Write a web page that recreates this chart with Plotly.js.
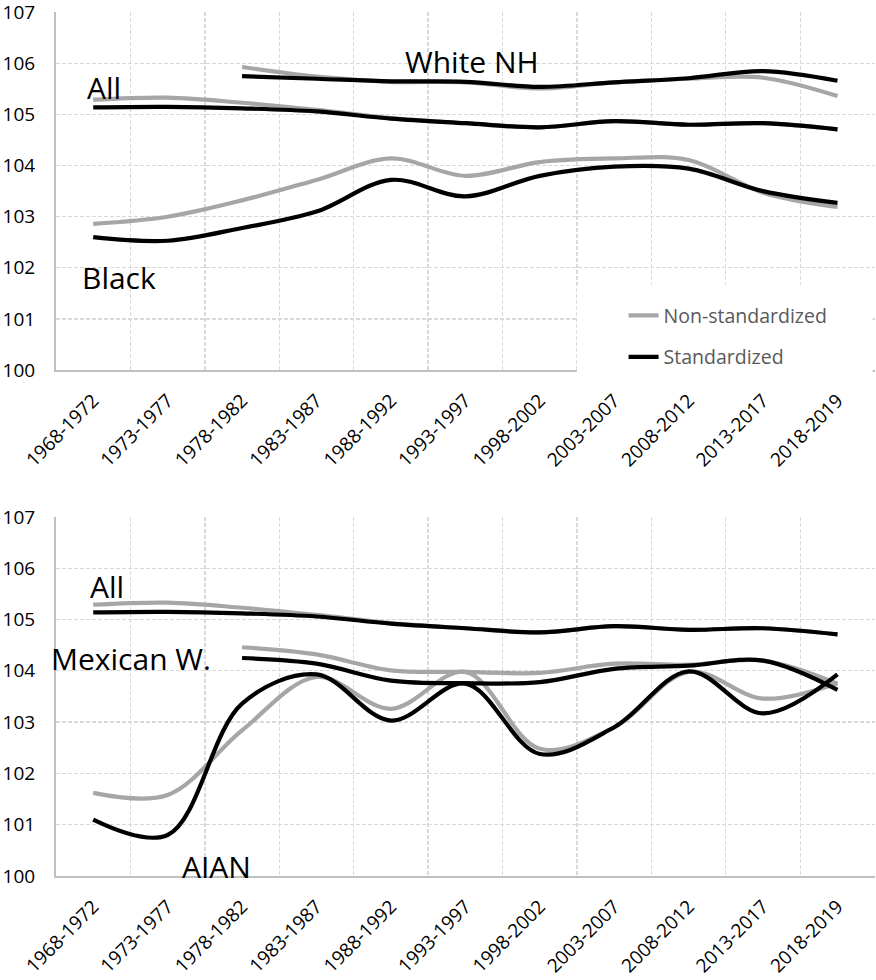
<!DOCTYPE html>
<html>
<head>
<meta charset="utf-8">
<script src="https://cdn.plot.ly/plotly-3.0.1.min.js"></script>
<style>
  html, body { margin: 0; padding: 0; background: #ffffff; }
  #chart { width: 876px; height: 980px; }
</style>
</head>
<body>
<div id="chart"></div>
<script>
// ---- Data ----
const periods = ['1968-1972','1973-1977','1978-1982','1983-1987','1988-1992','1993-1997','1998-2002','2003-2007','2008-2012','2013-2017','2018-2019'];
const yTicks = [100, 101, 102, 103, 104, 105, 106, 107];

// "All" (shown in both panels)
const allNonStd = [105.29, 105.33, 105.23, 105.09, 104.93, 104.83, 104.75, 104.87, 104.80, 104.83, 104.71];
const allStd    = [105.14, 105.15, 105.12, 105.06, 104.92, 104.83, 104.75, 104.87, 104.80, 104.83, 104.71];

// Top panel
const whiteNonStd = [null, null, 105.93, 105.74, 105.64, 105.63, 105.51, 105.63, 105.70, 105.72, 105.36];
const whiteStd    = [null, null, 105.75, 105.70, 105.65, 105.64, 105.54, 105.63, 105.71, 105.85, 105.66];
const blackNonStd = [102.86, 103.00, 103.32, 103.72, 104.14, 103.80, 104.07, 104.14, 104.11, 103.47, 103.19];
const blackStd    = [102.60, 102.53, 102.78, 103.10, 103.72, 103.40, 103.80, 103.98, 103.94, 103.50, 103.27];

// Bottom panel
const mexNonStd  = [null, null, 104.46, 104.32, 104.01, 103.98, 103.96, 104.14, 104.12, 104.20, 103.75];
const mexStd     = [null, null, 104.25, 104.14, 103.81, 103.76, 103.78, 104.04, 104.10, 104.20, 103.63];
const aianNonStd = [101.62, 101.58, 102.84, 103.88, 103.26, 103.98, 102.48, 102.90, 103.98, 103.46, 103.76];
const aianStd    = [101.10, 100.80, 103.36, 103.93, 103.03, 103.75, 102.38, 102.90, 103.99, 103.17, 103.93];

// ---- Styles ----
const GRAY = '#A6A6A6';
const BLACK = '#000000';
const LW = 4.2;

function line(y, color, xa, ya, name, showlegend, group) {
  return {
    type: 'scatter', mode: 'lines', x: periods, y: y,
    xaxis: xa, yaxis: ya, name: name,
    showlegend: !!showlegend, legendgroup: group,
    line: { color: color, width: LW, shape: 'spline', smoothing: 1 },
    connectgaps: false, hoverinfo: 'x+y+name'
  };
}

const traces = [
  // top panel: gray first, black on top
  line(allNonStd,   GRAY,  'x',  'y',  'Non-standardized', true, 'ns'),
  line(whiteNonStd, GRAY,  'x',  'y',  'White NH (non-standardized)', false, 'ns'),
  line(blackNonStd, GRAY,  'x',  'y',  'Black (non-standardized)', false, 'ns'),
  line(allStd,      BLACK, 'x',  'y',  'Standardized', true, 'st'),
  line(whiteStd,    BLACK, 'x',  'y',  'White NH (standardized)', false, 'st'),
  line(blackStd,    BLACK, 'x',  'y',  'Black (standardized)', false, 'st'),
  // bottom panel
  line(allNonStd,   GRAY,  'x2', 'y2', 'All (non-standardized)', false, 'ns'),
  line(mexNonStd,   GRAY,  'x2', 'y2', 'Mexican W. (non-standardized)', false, 'ns'),
  line(aianNonStd,  GRAY,  'x2', 'y2', 'AIAN (non-standardized)', false, 'ns'),
  line(allStd,      BLACK, 'x2', 'y2', 'All (standardized)', false, 'st'),
  line(mexStd,      BLACK, 'x2', 'y2', 'Mexican W. (standardized)', false, 'st'),
  line(aianStd,     BLACK, 'x2', 'y2', 'AIAN (standardized)', false, 'st')
];

const FONT = 'Open Sans, Noto Sans, DejaVu Sans, sans-serif';

function xAxis(anchor) {
  return {
    anchor: anchor, domain: [0, 1],
    type: 'category', categoryorder: 'array', categoryarray: periods,
    range: [-0.5, periods.length - 0.5 + 0.004],
    tickson: 'boundaries', ticks: '',
    showgrid: true, gridcolor: '#D9D9D9', gridwidth: 1.3, griddash: '4px,2px',
    showline: true, linecolor: '#BFBFBF', linewidth: 2,
    tickangle: -45, ticklabelstandoff: 10, ticklabeloverflow: 'allow',
    tickfont: { family: FONT, size: 19, color: '#000000' },
    zeroline: false, fixedrange: true
  };
}
function yAxis(anchor, domain) {
  return {
    anchor: anchor, domain: domain,
    range: [100, 107.006], tickvals: yTicks, ticktext: yTicks.map(String),
    ticks: '', ticklabelstandoff: 15, ticklabeloverflow: 'allow',
    showgrid: true, gridcolor: '#D9D9D9', gridwidth: 1.3, griddash: '4px,2px',
    showline: true, linecolor: '#BFBFBF', linewidth: 2,
    tickfont: { family: FONT, size: 19, color: '#000000' },
    zeroline: false, fixedrange: true
  };
}

function label(text, xref, yref, x, y) {
  return {
    text: text, xref: xref, yref: yref, x: x, y: y,
    showarrow: false, xanchor: 'center', yanchor: 'middle',
    font: { family: FONT, size: 30, color: '#000000' }
  };
}

const layout = {
  width: 876, height: 980,
  margin: { l: 56, r: 1, t: 12, b: 104 },
  paper_bgcolor: '#ffffff', plot_bgcolor: '#ffffff',
  xaxis: xAxis('y'),
  yaxis: yAxis('x', [0.5856, 1]),
  xaxis2: xAxis('y2'),
  yaxis2: yAxis('x2', [0, 0.4159]),
  showlegend: true,
  legend: {
    x: 0.693, y: 0.671, xanchor: 'left', yanchor: 'top',
    bgcolor: 'rgba(255,255,255,0)', borderwidth: 0,
    traceorder: 'grouped', tracegroupgap: 13,
    font: { family: FONT, size: 19.5, color: '#595959' }
  },
  shapes: [
    { type: 'rect', xref: 'paper', yref: 'paper', x0: 0.636, x1: 0.997, y0: 0.5825, y1: 0.684,
      fillcolor: '#ffffff', line: { width: 0 }, layer: 'above' }
  ],
  annotations: [
    label('All', 'x', 'y', 0.14, 105.53),
    label('White NH', 'x', 'y', 5.09, 106.03),
    label('Black', 'x', 'y', 0.34, 101.81),
    label('All', 'x2', 'y2', 0.19, 105.64),
    label('Mexican W.', 'x2', 'y2', 0.51, 104.25),
    label('AIAN', 'x2', 'y2', 1.65, 100.18)
  ]
};

Plotly.newPlot('chart', traces, layout, { displayModeBar: false, staticPlot: true });
</script>
</body>
</html>
